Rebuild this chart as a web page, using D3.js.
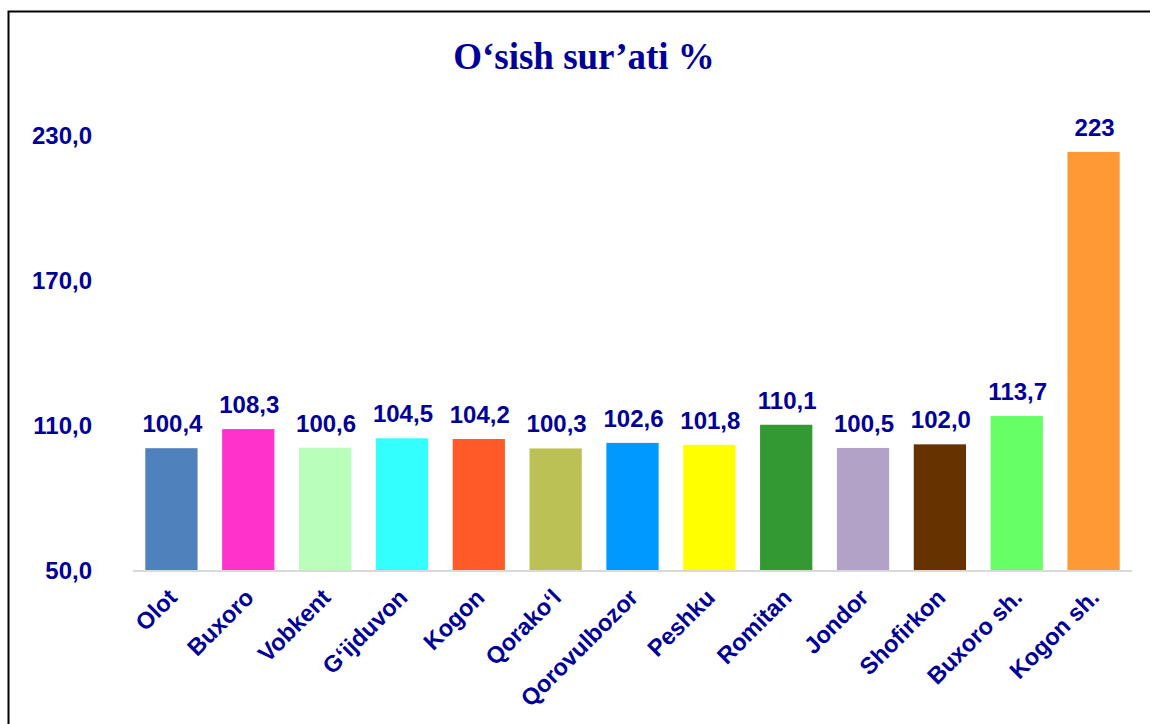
<!DOCTYPE html>
<html>
<head>
<meta charset="utf-8">
<script src="https://cdn.jsdelivr.net/npm/d3@7"></script>
<style>
  body { margin: 0; background: #fff; }
  svg { display: block; }
</style>
</head>
<body>
<script>
// Districts and growth rates
const districts = ["Olot", "Buxoro", "Vobkent", "G‘ijduvon", "Kogon", "Qorako‘l", "Qorovulbozor",
    "Peshku", "Romitan", "Jondor", "Shofirkon", "Buxoro sh.", "Kogon sh."];
const growth = [100.4, 108.3, 100.6, 104.5, 104.2, 100.3, 102.6, 101.8, 110.1, 100.5, 102.0, 113.7, 223];
const valueLabels = ["100,4", "108,3", "100,6", "104,5", "104,2", "100,3", "102,6", "101,8", "110,1",
    "100,5", "102,0", "113,7", "223"];
const barColors = ["#4F81BD", "#FF33CC", "#B9FFB9", "#33FFFF", "#FF5A28", "#BBC155", "#0099FF",
    "#FFFF00", "#339933", "#B3A2C7", "#663300", "#66FF66", "#FF9933"];
const yTicks = [50, 110, 170, 230];

const width = 1150, height = 724;
const navy = "#000099";
const sans = "'Liberation Sans', Arial, sans-serif";

const svg = d3.select("body").append("svg")
    .attr("width", width)
    .attr("height", height);

// Outer frame
svg.append("rect")
    .attr("x", 8.5).attr("y", 11.5)
    .attr("width", width + 20).attr("height", height + 20)
    .attr("fill", "none")
    .attr("stroke", "#000")
    .attr("stroke-width", 2);

// Title
svg.append("text")
    .attr("x", 584).attr("y", 69)
    .attr("text-anchor", "middle")
    .attr("font-family", "'Liberation Serif', 'Times New Roman', serif")
    .attr("font-weight", "bold")
    .attr("font-size", "37px")
    .attr("fill", navy)
    .text("O‘sish sur’ati %");

// Scales
const x = d3.scaleBand().domain(districts).range([133, 1132]).paddingInner(0.32).paddingOuter(0.16);
const y = d3.scaleLinear().domain([50, 230]).range([570, 135]);

// Y axis labels (no line, no ticks)
svg.append("g").selectAll("text")
    .data(yTicks)
    .enter().append("text")
    .attr("x", 92)
    .attr("y", d => y(d))
    .attr("dy", "0.36em")
    .attr("text-anchor", "end")
    .attr("font-family", sans)
    .attr("font-weight", "bold")
    .attr("font-size", "24px")
    .attr("fill", navy)
    .text(d => d.toFixed(1).replace(".", ","));

// Bars
svg.append("g").selectAll("rect")
    .data(growth)
    .enter().append("rect")
    .attr("x", (d, i) => x(districts[i]))
    .attr("y", d => y(d))
    .attr("width", x.bandwidth())
    .attr("height", d => y(50) - y(d))
    .attr("fill", (d, i) => barColors[i]);

// Baseline
svg.append("line")
    .attr("x1", 133).attr("x2", 1132)
    .attr("y1", y(50) + 1).attr("y2", y(50) + 1)
    .attr("stroke", "#D9D9D9")
    .attr("stroke-width", 2);

// Value labels
svg.append("g").selectAll("text")
    .data(growth)
    .enter().append("text")
    .attr("x", (d, i) => x(districts[i]) + x.bandwidth() / 2 + 1)
    .attr("y", d => y(d) - 16)
    .attr("text-anchor", "middle")
    .attr("font-family", sans)
    .attr("font-weight", "bold")
    .attr("font-size", "24px")
    .attr("fill", navy)
    .text((d, i) => valueLabels[i]);

// Category labels, rotated
svg.append("g").selectAll("text")
    .data(districts)
    .enter().append("text")
    .attr("transform", d => `translate(${x(d) + x.bandwidth() / 2 + 7}, 599) rotate(-45)`)
    .attr("text-anchor", "end")
    .attr("font-family", sans)
    .attr("font-weight", "bold")
    .attr("font-size", "23.5px")
    .attr("fill", navy)
    .text(d => d);
</script>
</body>
</html>
